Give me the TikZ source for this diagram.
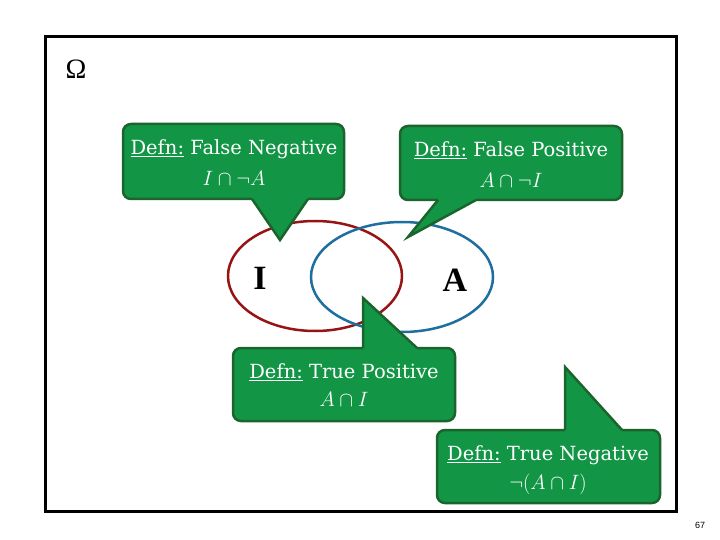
\documentclass[tikz,border=0pt]{standalone}
\usepackage{fontspec}
\setmainfont{Liberation Serif}
\newfontfamily\bubfont{DejaVu Serif}
\newfontfamily\pagefont{Liberation Sans}
\definecolor{bubfill}{RGB}{18,150,70}
\definecolor{bubedge}{RGB}{28,100,45}
\definecolor{setI}{RGB}{150,20,20}
\definecolor{setA}{RGB}{30,110,160}
\tikzset{
  bubble/.style={fill=bubfill,draw=bubedge,line width=2.5pt,rounded corners=8},
  pointerfill/.style={fill=bubfill},
  pointeredge/.style={draw=bubedge,line width=2.5pt,line join=miter},
  bubtext/.style={text=white,font=\bubfont\fontsize{19.5}{22}\selectfont,inner sep=0pt,anchor=center},
  bubmath/.style={text=white,font=\fontsize{20}{22}\selectfont,inner sep=0pt,anchor=center},
  setlabel/.style={font=\fontsize{34}{36}\selectfont\bfseries,inner sep=0pt}
}
\begin{document}
\begin{tikzpicture}[x=1pt,y=-1pt]
\useasboundingbox (0,0) rectangle (720,540);
\fill[white] (0,0) rectangle (720,540);
\draw[line width=3pt] (45,37) rectangle (676,511);
\node[font=\fontsize{28}{30}\selectfont,inner sep=0pt] (omega) at (76,69) {Ω};
% ellipses
\draw[setI,line width=2.5pt] (315,276) ellipse [x radius=87,y radius=55];
\draw[setA,line width=2.5pt] (402,277) ellipse [x radius=91,y radius=55];
\node[setlabel] (I) at (260,278) {I};
\node[setlabel] (A) at (455,280) {A};
% bubble 1: false negative
\draw[bubble] (123,124) rectangle (344,199);
\fill[pointerfill] (308,195) -- (308,199) -- (280,240) -- (252,199) -- (252,195) -- cycle;
\draw[pointeredge] (308,199) -- (280,240) -- (252,199);
\node[bubtext] (fn1) at (234,149) {\underline{Defn:} False Negative};
\node[bubmath] (fn2) at (234,178) {$I\cap\neg A$};
% bubble 2: false positive
\draw[bubble] (400,126) rectangle (622,200);
\fill[pointerfill] (476,196) -- (476,200) -- (408,237) -- (438,200) -- (438,196) -- cycle;
\draw[pointeredge] (476,200) -- (408,237) -- (438,200);
\node[bubtext] (fp1) at (511,150) {\underline{Defn:} False Positive};
\node[bubmath] (fp2) at (511,180) {$A\cap\neg I$};
% bubble 3: true positive
\draw[bubble] (233,348) rectangle (455,421);
\fill[pointerfill] (363,352) -- (363,348) -- (363,298) -- (417,348) -- (417,352) -- cycle;
\draw[pointeredge] (363,348) -- (363,298) -- (417,348);
\node[bubtext] (tp1) at (344,372) {\underline{Defn:} True Positive};
\node[bubmath] (tp2) at (344,399) {$A\cap I$};
% bubble 4: true negative
\draw[bubble] (437,430) rectangle (660,503);
\fill[pointerfill] (565,434) -- (565,430) -- (565,367) -- (622,430) -- (622,434) -- cycle;
\draw[pointeredge] (565,430) -- (565,367) -- (622,430);
\node[bubtext] (tn1) at (548,455) {\underline{Defn:} True Negative};
\node[bubmath] (tn2) at (548,484) {$\neg(A\cap I)$};
\node[font=\pagefont\fontsize{9}{10}\selectfont,inner sep=0pt] (page) at (700,525) {67};
\end{tikzpicture}
\end{document}
